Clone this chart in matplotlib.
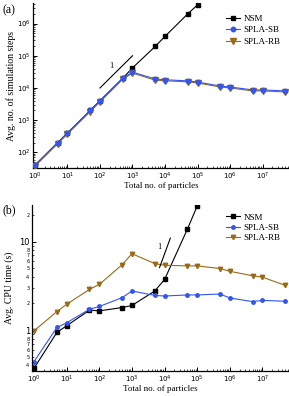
import numpy as np
import matplotlib
matplotlib.use("Agg")
import matplotlib.pyplot as plt
from matplotlib.ticker import LogLocator, FuncFormatter, NullFormatter, FixedLocator

# particle counts
n_a = [1, 5, 10, 50, 100, 500, 1000, 5000, 1e4, 5e4, 1e5, 5e5, 1e6, 5e6, 1e7, 5e7]

# (a) avg. number of simulation steps
nsm_steps = [40, 200, 400, 2000, 4000, 2e4, 4.2e4, 1.95e5, 4e5, 2e6, 3.8e6]
sb_steps = [40, 200, 400, 2000, 4000, 2e4, 3.1e4, 1.9e4, 1.8e4, 1.66e4, 1.53e4,
            1.15e4, 1.07e4, 8.7e3, 8.7e3, 8.1e3]
rb_steps = [37, 185, 370, 1850, 3700, 1.85e4, 2.9e4, 1.75e4, 1.67e4, 1.55e4, 1.43e4,
            1.07e4, 1.0e4, 8.1e3, 8.1e3, 7.5e3]

# (b) avg. CPU time (s)
nsm_cpu = [0.37, 0.94, 1.12, 1.68, 1.65, 1.80, 1.90, 2.77, 3.74, 13.9, 25.4]
sb_cpu = [0.44, 1.07, 1.21, 1.72, 1.85, 2.33, 2.77, 2.47, 2.43, 2.5, 2.5,
          2.56, 2.31, 2.1, 2.17, 2.12]
rb_cpu = [0.98, 1.62, 1.96, 2.89, 3.29, 5.5, 7.33, 5.66, 5.42, 5.33, 5.33,
          4.98, 4.63, 4.12, 3.97, 3.21]

x_ticks = [1, 10, 100, 1e3, 1e4, 1e5, 1e6, 1e7]

# slope-1 guide lines
guide_a_x = [100, 1000]
guide_a_y = [1e4, 1e5]
guide_b_x = [7e3, 1.5e4]
guide_b_y = [5.1, 11.0]

blue = "#3355f0"
brown = "#9a6a16"
serif = "Liberation Serif"

fig = plt.figure(figsize=(2.89, 3.96), dpi=100)
ax1 = fig.add_axes([0.114, 0.575, 0.886, 0.417])
ax2 = fig.add_axes([0.111, 0.062, 0.889, 0.420])


def style_axes(ax):
    ax.set_xscale("log")
    ax.set_yscale("log")
    for s in ["top", "right"]:
        ax.spines[s].set_visible(False)
    for s in ["left", "bottom"]:
        ax.spines[s].set_linewidth(0.9)
    ax.tick_params(which="major", direction="in", length=3, width=0.7,
                   labelsize=5, pad=1.5)
    ax.tick_params(which="minor", direction="in", length=1.6, width=0.5)
    ax.xaxis.set_major_locator(FixedLocator(x_ticks))
    ax.xaxis.set_major_formatter(FuncFormatter(lambda v, p: r"$10^{%d}$" % round(np.log10(v))))
    ax.xaxis.set_minor_locator(LogLocator(base=10, subs=np.arange(2, 10), numticks=50))
    ax.xaxis.set_minor_formatter(NullFormatter())
    ax.set_xlim(0.87, 6.5e7)
    ax.set_xlabel("Total no. of particles", family=serif, fontsize=6.5, labelpad=0)


style_axes(ax1)
n = len(nsm_steps)
ax1.plot(n_a[:n], nsm_steps, color="black", lw=0.8, marker="s", ms=3.2, label="NSM")
ax1.plot(n_a, rb_steps, color=brown, lw=0.8, marker="v", ms=4, label="SPLA-RB", zorder=3)
ax1.plot(n_a, sb_steps, color=blue, lw=0.8, marker="o", ms=3.2, label="SPLA-SB", zorder=4)
ax1.plot(guide_a_x, guide_a_y, color="black", lw=0.8)
ax1.text(200, 4.2e4, "1", family=serif, fontsize=6)
ax1.set_ylim(32, 4.3e6)
ax1.yaxis.set_major_locator(FixedLocator([1e2, 1e3, 1e4, 1e5, 1e6]))
ax1.yaxis.set_major_formatter(FuncFormatter(lambda v, p: r"$10^{%d}$" % round(np.log10(v))))
ax1.yaxis.set_minor_locator(LogLocator(base=10, subs=np.arange(2, 10), numticks=50))
ax1.yaxis.set_minor_formatter(NullFormatter())
ax1.set_ylabel("Avg. no. of simulation steps", family=serif, fontsize=7, labelpad=1)
h, l = ax1.get_legend_handles_labels()
ax1.legend([h[0], h[2], h[1]], [l[0], l[2], l[1]], loc="upper right",
           bbox_to_anchor=(1.0, 0.98), frameon=False,
           prop={"family": serif, "size": 6.5}, handlelength=1.6,
           handletextpad=0.4, labelspacing=0.35)
fig.text(0.01, 0.975, "(a)", family=serif, fontsize=8.5, va="center")

style_axes(ax2)
n = len(nsm_cpu)
ax2.plot(n_a[:n], nsm_cpu, color="black", lw=0.8, marker="s", ms=2.5, label="NSM")
ax2.plot(n_a, sb_cpu, color=blue, lw=0.8, marker="o", ms=2.5, label="SPLA-SB")
ax2.plot(n_a, rb_cpu, color=brown, lw=0.8, marker="v", ms=3.2, label="SPLA-RB")
ax2.plot(guide_b_x, guide_b_y, color="black", lw=0.8)
ax2.text(5.8e3, 8.2, "1", family=serif, fontsize=6)
ax2.set_ylim(0.34, 26)
ax2.yaxis.set_major_locator(FixedLocator([1, 10]))
ax2.yaxis.set_major_formatter(FuncFormatter(lambda v, p: "%g" % v))
ax2.yaxis.set_minor_locator(LogLocator(base=10, subs=np.arange(2, 10), numticks=50))


def minor_fmt(v, p):
    m = int(round(v / 10 ** np.floor(np.log10(v))))
    return str(m) if 2 <= m <= 8 else ""


ax2.yaxis.set_minor_formatter(FuncFormatter(minor_fmt))
ax2.tick_params(axis="y", which="minor", labelsize=3.5, pad=2)
ax2.tick_params(axis="y", which="major", labelsize=6)
ax2.set_ylabel("Avg. CPU time (s)", family=serif, fontsize=7, labelpad=4)
ax2.legend(loc="upper right", bbox_to_anchor=(1.0, 1.0), frameon=False,
           prop={"family": serif, "size": 6.5}, handlelength=1.6,
           handletextpad=0.4, labelspacing=0.2)
fig.text(0.01, 0.468, "(b)", family=serif, fontsize=8.5, va="center")

fig.savefig("out.png", dpi=100)
